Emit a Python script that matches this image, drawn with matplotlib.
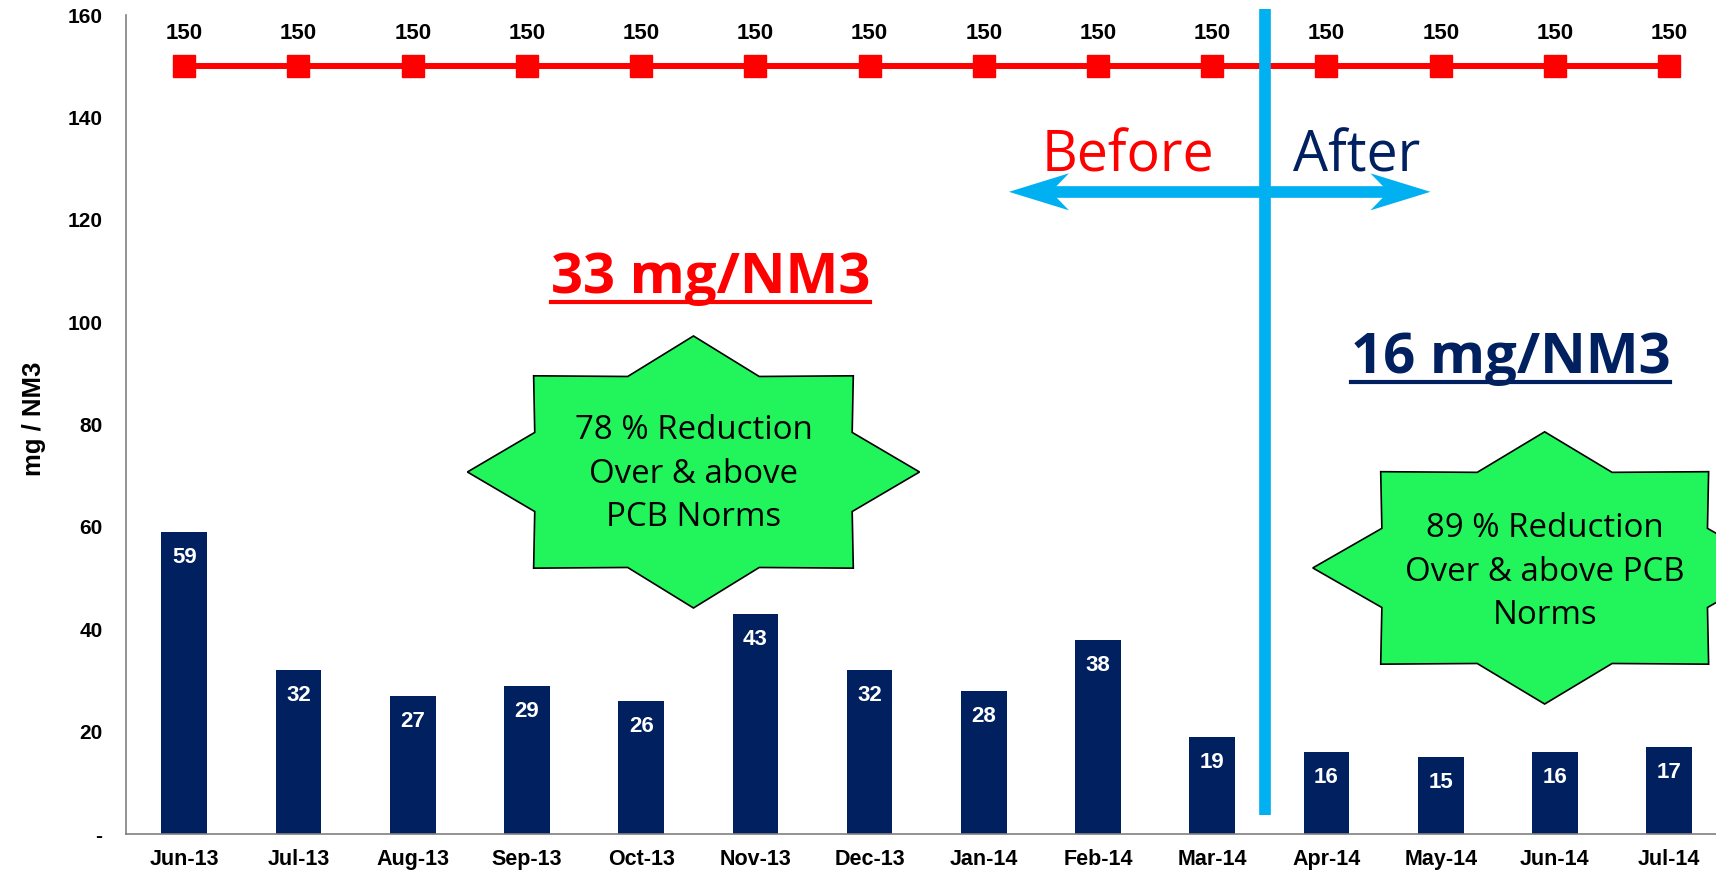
import matplotlib
matplotlib.use('Agg')
import matplotlib.pyplot as plt
import numpy as np
from matplotlib.patches import Polygon
from matplotlib.transforms import ScaledTranslation
from matplotlib.lines import Line2D

# ---------------- data ----------------
months = ['Jun-13', 'Jul-13', 'Aug-13', 'Sep-13', 'Oct-13', 'Nov-13', 'Dec-13',
          'Jan-14', 'Feb-14', 'Mar-14', 'Apr-14', 'May-14', 'Jun-14', 'Jul-14']
emissions = [59, 32, 27, 29, 26, 43, 32, 28, 38, 19, 16, 15, 16, 17]
pcb_norm = [150, 150, 150, 150, 150, 150, 150, 150, 150, 150, 150, 150, 150, 150]
y_ticks = [0, 20, 40, 60, 80, 100, 120, 140, 160]
y_tick_labels = ['-', '20', '40', '60', '80', '100', '120', '140', '160']

NAVY = '#002060'
RED = '#FF0000'
CYAN = '#00B0F0'
GREEN = '#22F55B'

W, H = 1716, 872
fig = plt.figure(figsize=(W / 100, H / 100), dpi=100)
ax = fig.add_axes([126 / W, 1 - 834 / H, 1590 / W, (834 - 15.3) / H])

x = np.arange(len(months))
ax.bar(x, emissions, width=0.4, color=NAVY, zorder=2)
for xi, v in zip(x, emissions):
    ax.annotate(str(v), (xi, v), xytext=(0, -18.5), textcoords='offset points',
                ha='center', va='center', color='white', fontsize=16,
                fontweight='bold', family='Liberation Sans', zorder=4)

ax.plot(x, pcb_norm, color=RED, lw=4.3, marker='s', ms=16.5, zorder=3, clip_on=False)
for xi, v in zip(x, pcb_norm):
    ax.annotate(str(v), (xi, v), xytext=(0, 24), textcoords='offset points',
                ha='center', va='center', color='black', fontsize=16,
                fontweight='bold', family='Liberation Sans')

ax.set_xlim(-0.51, 13.41)
ax.set_ylim(0, 160)
ax.set_xticks(x)
ax.set_xticklabels(months, fontsize=15.5, fontweight='bold', family='Liberation Sans')
ax.set_yticks(y_ticks)
ax.set_yticklabels(y_tick_labels, fontsize=15, fontweight='bold', family='Liberation Sans')
ax.tick_params(axis='x', length=0, pad=11)
ax.tick_params(axis='y', length=0, pad=17)
for s in ['top', 'right']:
    ax.spines[s].set_visible(False)
for s in ['left', 'bottom']:
    ax.spines[s].set_color('#808080')
    ax.spines[s].set_linewidth(1.2)
ax.set_ylabel('mg / NM3', fontsize=18.5, fontweight='bold', family='Liberation Sans')
ax.yaxis.set_label_coords(-0.0505, 0.507)

# ---------------- vertical divider ----------------
ax.plot([9.46, 9.46], [3.7, 161.2], color=CYAN, lw=8.4, solid_capstyle='butt',
        zorder=5, clip_on=False)

# ---------------- double arrow ----------------
arrow_y = 125.5
x_left, x_right = 7.22, 10.91
px_per_x = 1590 / (13.41 + 0.51)
shaft_off = 30 / px_per_x
ax.plot([x_left + shaft_off, x_right - shaft_off], [arrow_y, arrow_y], color=CYAN,
        lw=8.4, solid_capstyle='butt', zorder=5)
head = np.array([[0, 0], [60, 18.5], [42, 0], [60, -18.5]]) / 100.0
for xt, sgn in [(x_left, 1), (x_right, -1)]:
    tr = fig.dpi_scale_trans + ScaledTranslation(xt, arrow_y, ax.transData)
    verts = head * np.array([sgn, 1])
    ax.add_patch(Polygon(verts, closed=True, transform=tr, facecolor=CYAN,
                         edgecolor='none', zorder=6, clip_on=False))

ax.text(8.26, 129.4, 'Before', color=RED, fontsize=40, family='Open Sans',
        ha='center', va='baseline', zorder=6)
ax.text(10.26, 129.4, 'After', color=NAVY, fontsize=40, family='Open Sans',
        ha='center', va='baseline', zorder=6)

# ---------------- averages ----------------
avg1 = ax.text(4.607, 105.7, '33 mg/NM3', color=RED, fontsize=40.5, fontweight='bold',
               family='Open Sans', ha='center', va='baseline')
avg2 = ax.text(11.61, 90.1, '16 mg/NM3', color=NAVY, fontsize=40.5, fontweight='bold',
               family='Open Sans', ha='center', va='baseline')

# ---------------- stars ----------------
def star(cx, cy, rx, ry, n=8, inner=0.76):
    pts = []
    for k in range(2 * n):
        ang = np.pi / 2 - k * np.pi / n
        r = 1.0 if k % 2 == 0 else inner
        pts.append((np.cos(ang) * r, np.sin(ang) * r))
    pts = np.array(pts)
    return np.column_stack([cx + pts[:, 0] * rx, cy + pts[:, 1] * ry])

s1 = star(4.458, 70.75, 1.979, 26.58)
s2 = star(11.91, 52.0, 2.03, 26.6)
for s in (s1, s2):
    ax.add_patch(Polygon(s, closed=True, facecolor=GREEN, edgecolor='black',
                         lw=1.2, zorder=4, clip_on=False))

ax.text(4.458, 70.3, '78 % Reduction\nOver & above\nPCB Norms', ha='center',
        va='center', fontsize=23.8, family='Open Sans', linespacing=1.42, zorder=5)
ax.text(11.91, 51.2, '89 % Reduction\nOver & above PCB\nNorms', ha='center',
        va='center', fontsize=23.8, family='Open Sans', linespacing=1.42, zorder=5)

# ---------------- underlines ----------------
fig.canvas.draw()
r = fig.canvas.get_renderer()
for t, col in [(avg1, RED), (avg2, NAVY)]:
    bb = t.get_window_extent(r)
    base = ax.transData.transform(t.get_position())[1]
    yl = base - 9
    fig.add_artist(Line2D([bb.x0 / W, bb.x1 / W], [yl / H, yl / H],
                          transform=fig.transFigure, color=col, lw=3))

fig.savefig('out.png', dpi=100)
